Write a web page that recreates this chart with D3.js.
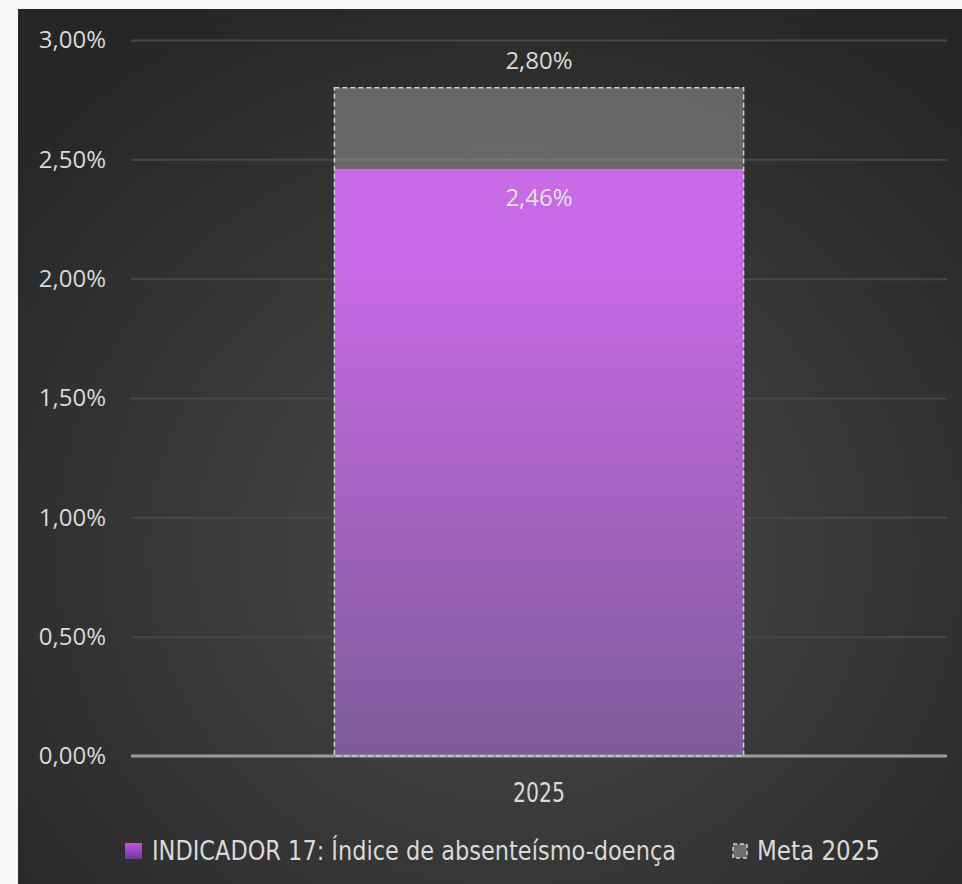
<!DOCTYPE html>
<html>
<head>
<meta charset="utf-8">
<script src="https://cdn.jsdelivr.net/npm/d3@7/dist/d3.min.js"></script>
<style>
  html, body { margin: 0; padding: 0; background: #f7f7f7; }
  svg { display: block; }
</style>
</head>
<body>
<svg id="chart" width="962" height="884"></svg>
<script>
// ---- data ----
const categories = ["2025"];
const indicadorValues = [0.0246];
const metaValues = [0.028];
const yTicks = [0, 0.005, 0.01, 0.015, 0.02, 0.025, 0.03];
const seriesNames = ["INDICADOR 17: Índice de absenteísmo-doença", "Meta 2025"];

const fmt = v => (v * 100).toFixed(2).replace(".", ",") + "%";

const svg = d3.select("#chart");
const defs = svg.append("defs");

// background gradient
const bg = defs.append("radialGradient").attr("id", "bg")
  .attr("cx", "52%").attr("cy", "62%").attr("r", "70%");
bg.append("stop").attr("offset", "0%").attr("stop-color", "#4a4a4a");
bg.append("stop").attr("offset", "100%").attr("stop-color", "#262626");

const pg = defs.append("linearGradient").attr("id", "purple")
  .attr("x1", 0).attr("y1", 0).attr("x2", 0).attr("y2", 1);
pg.append("stop").attr("offset", "0%").attr("stop-color", "#c96ae7");
pg.append("stop").attr("offset", "18%").attr("stop-color", "#c769e4");
pg.append("stop").attr("offset", "100%").attr("stop-color", "#7d5b99");

const lg = defs.append("linearGradient").attr("id", "purpleLeg")
  .attr("x1", 0).attr("y1", 0).attr("x2", 0).attr("y2", 1);
lg.append("stop").attr("offset", "0%").attr("stop-color", "#c64fe8");
lg.append("stop").attr("offset", "100%").attr("stop-color", "#6a3b98");

svg.append("rect").attr("x", 18).attr("y", 9).attr("width", 944).attr("height", 875)
  .attr("fill", "url(#bg)");

const y = d3.scaleLinear().domain([0, 0.03]).range([756, 40]);
const x = d3.scaleBand().domain(categories).range([131, 947]).paddingInner(0.332).paddingOuter(0.332);

// gridlines
const yAxis = d3.axisLeft(y).tickValues(yTicks).tickSize(-(947 - 131)).tickFormat(fmt).tickPadding(25);
const ga = svg.append("g").attr("transform", "translate(131,0)").call(yAxis);
ga.select(".domain").remove();
ga.selectAll(".tick line").attr("stroke", "#484848").attr("stroke-width", 2);
ga.selectAll(".tick text").attr("fill", "#d9d9d9")
  .style("font-family", "'Open Sans', sans-serif").style("font-size", "24px");

// meta bar fill
svg.selectAll(".meta").data(categories).enter().append("rect")
  .attr("x", d => x(d)).attr("width", x.bandwidth())
  .attr("y", (d, i) => y(metaValues[i])).attr("height", (d, i) => y(0) - y(metaValues[i]))
  .attr("fill", "rgba(198,198,198,0.37)");

// indicator bar
svg.selectAll(".ind").data(categories).enter().append("rect")
  .attr("x", d => x(d)).attr("width", x.bandwidth())
  .attr("y", (d, i) => y(indicadorValues[i])).attr("height", (d, i) => y(0) - y(indicadorValues[i]))
  .attr("fill", "url(#purple)");

// baseline
svg.append("line").attr("x1", 131).attr("x2", 947).attr("y1", y(0)).attr("y2", y(0))
  .attr("stroke", "#9a9a9a").attr("stroke-width", 3);

// meta dashed border
svg.selectAll(".metaB").data(categories).enter().append("rect")
  .attr("x", d => x(d)).attr("width", x.bandwidth())
  .attr("y", (d, i) => y(metaValues[i])).attr("height", (d, i) => y(0) - y(metaValues[i]))
  .attr("fill", "none").attr("stroke", "#d0d0d0").attr("stroke-width", 1.5)
  .attr("stroke-dasharray", "5,3");

// data labels
const lblFont = "'Open Sans', sans-serif";
categories.forEach((c, i) => {
  svg.append("text").attr("x", x(c) + x.bandwidth() / 2).attr("y", y(metaValues[i]) - 27)
    .attr("text-anchor", "middle").attr("dy", "0.35em").attr("fill", "#d9d9d9")
    .style("font-family", lblFont).style("font-size", "24px").text(fmt(metaValues[i]));
  svg.append("text").attr("x", x(c) + x.bandwidth() / 2).attr("y", y(indicadorValues[i]) + 29)
    .attr("text-anchor", "middle").attr("dy", "0.35em").attr("fill", "#e2e2e2")
    .style("font-family", lblFont).style("font-size", "24px").text(fmt(indicadorValues[i]));
});

// x axis label
const narrow = "'Liberation Sans Narrow', 'DejaVu Sans Condensed', sans-serif";
categories.forEach(c => {
  svg.append("text").attr("x", x(c) + x.bandwidth() / 2).attr("y", 793).attr("dy", "0.35em")
    .attr("text-anchor", "middle").attr("fill", "#d9d9d9")
    .style("font-family", narrow).style("font-size", "26px")
    .attr("textLength", 52).attr("lengthAdjust", "spacingAndGlyphs").text(c);
});

// legend
const leg = svg.append("g");
leg.append("rect").attr("x", 125).attr("y", 843).attr("width", 17).attr("height", 16)
  .attr("fill", "url(#purpleLeg)");
leg.append("text").attr("x", 152).attr("y", 851).attr("dy", "0.35em").attr("fill", "#d9d9d9")
  .style("font-family", narrow).style("font-size", "26px")
  .attr("textLength", 524).attr("lengthAdjust", "spacingAndGlyphs").text(seriesNames[0]);
leg.append("rect").attr("x", 733).attr("y", 844).attr("width", 14).attr("height", 14)
  .attr("fill", "#6e6e6e").attr("stroke", "#d0d0d0").attr("stroke-width", 1.5)
  .attr("stroke-dasharray", "4,3");
leg.append("text").attr("x", 757).attr("y", 851).attr("dy", "0.35em").attr("fill", "#d9d9d9")
  .style("font-family", narrow).style("font-size", "26px")
  .attr("textLength", 123).attr("lengthAdjust", "spacingAndGlyphs").text(seriesNames[1]);
</script>
</body>
</html>
